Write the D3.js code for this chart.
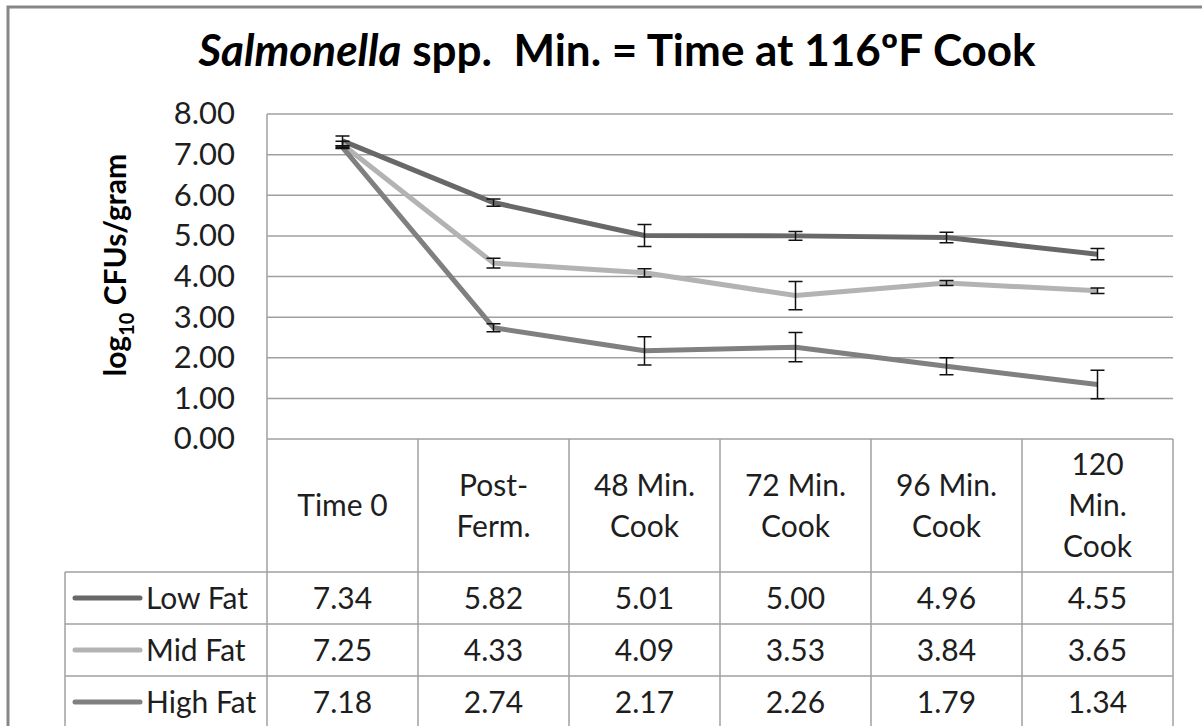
<!DOCTYPE html>
<html>
<head>
<meta charset="utf-8">
<script src="https://cdn.jsdelivr.net/npm/d3@7"></script>
<style>
  body { margin: 0; background: #fff; }
  svg { display: block; font-family: Lato, "Open Sans", sans-serif; }
</style>
</head>
<body>
<div id="chart"></div>
<script>
// categories (header lines of the data table)
const categories = ['Time 0', 'Post-Ferm.', '48 Min. Cook', '72 Min. Cook', '96 Min. Cook', '120 Min. Cook'];
const categoryLines = [['Time 0'], ['Post-', 'Ferm.'], ['48 Min.', 'Cook'], ['72 Min.', 'Cook'], ['96 Min.', 'Cook'], ['120', 'Min.', 'Cook']];

// series values (log10 CFUs/gram)
const seriesNames = ['Low Fat', 'Mid Fat', 'High Fat'];
const lowFat = [7.34, 5.82, 5.01, 5.00, 4.96, 4.55];
const midFat = [7.25, 4.33, 4.09, 3.53, 3.84, 3.65];
const highFat = [7.18, 2.74, 2.17, 2.26, 1.79, 1.34];

// error bar half-widths
const lowFatErr = [0.12, 0.09, 0.27, 0.11, 0.13, 0.14];
const midFatErr = [0.08, 0.12, 0.10, 0.35, 0.06, 0.07];
const highFatErr = [0.03, 0.10, 0.35, 0.36, 0.21, 0.35];

const yTicks = [0, 1, 2, 3, 4, 5, 6, 7, 8];

const colors = ['#686868', '#b3b3b3', '#808080'];
const series = [
  { name: seriesNames[0], values: lowFat, err: lowFatErr, color: colors[0] },
  { name: seriesNames[1], values: midFat, err: midFatErr, color: colors[1] },
  { name: seriesNames[2], values: highFat, err: highFatErr, color: colors[2] },
];

const width = 1202;
const height = 726;
const plot = { left: 267, right: 1173, top: 114, bottom: 439 };
const table = { legendLeft: 65, headerBottom: 572, rowHeight: 52 };
const gridColor = '#a0a0a0';
const textColor = '#1e1e1e';
const tableFont = 30;

const svg = d3.select('#chart')
  .append('svg')
  .attr('width', width)
  .attr('height', height);

// outer chart border
svg.append('rect')
  .attr('x', 8)
  .attr('y', 7)
  .attr('width', 1220)
  .attr('height', 760)
  .attr('fill', 'none')
  .attr('stroke', '#878787')
  .attr('stroke-width', 3);

// title
const title = svg.append('text')
  .attr('x', 617)
  .attr('y', 66)
  .attr('text-anchor', 'middle')
  .attr('font-size', 44)
  .attr('font-weight', 'bold')
  .attr('fill', '#000');
title.append('tspan').attr('font-style', 'italic').text('Salmonella');
title.append('tspan').attr('xml:space', 'preserve').text(' spp.\u00a0 Min. = Time at 116\u00baF Cook');

// scales
const x = d3.scaleBand()
  .domain(categories)
  .range([plot.left, plot.right]);

const y = d3.scaleLinear()
  .domain([0, 8])
  .range([plot.bottom, plot.top]);

// gridlines
svg.append('g')
  .selectAll('line')
  .data(yTicks)
  .join('line')
  .attr('x1', plot.left)
  .attr('x2', plot.right)
  .attr('y1', d => y(d))
  .attr('y2', d => y(d))
  .attr('stroke', gridColor)
  .attr('stroke-width', 1.5);

// y axis labels
const yAxis = svg.append('g')
  .attr('transform', `translate(${plot.left},0)`)
  .call(d3.axisLeft(y).tickValues(yTicks).tickFormat(d3.format('.2f')).tickSize(0).tickPadding(32));
yAxis.select('.domain').remove();
yAxis.selectAll('text')
  .attr('font-family', 'Lato, sans-serif')
  .attr('font-size', 31)
  .attr('fill', textColor);

// y axis title
const yTitle = svg.append('text')
  .attr('transform', 'translate(126,265) rotate(-90)')
  .attr('text-anchor', 'middle')
  .attr('font-size', 30)
  .attr('font-weight', 'bold')
  .attr('fill', '#000');
yTitle.append('tspan').text('log');
yTitle.append('tspan').attr('font-size', 20).attr('dy', 8).text('10');
yTitle.append('tspan').attr('dy', -8).text(' CFUs/gram');

// data table lines
const tableBottom = table.headerBottom + table.rowHeight * 3;
const tableLines = svg.append('g')
  .attr('stroke', gridColor)
  .attr('stroke-width', 1.5);

// column boundaries
const colEdges = categories.map(c => x(c)).concat([plot.right]);
tableLines.selectAll('line.col')
  .data(colEdges)
  .join('line')
  .attr('class', 'col')
  .attr('x1', d => d)
  .attr('x2', d => d)
  .attr('y1', (d, i) => i === 0 ? plot.top : plot.bottom)
  .attr('y2', tableBottom);

tableLines.append('line')
  .attr('x1', table.legendLeft)
  .attr('x2', table.legendLeft)
  .attr('y1', table.headerBottom)
  .attr('y2', tableBottom);

tableLines.selectAll('line.row')
  .data(d3.range(4))
  .join('line')
  .attr('class', 'row')
  .attr('x1', table.legendLeft)
  .attr('x2', plot.right)
  .attr('y1', d => table.headerBottom + d * table.rowHeight)
  .attr('y2', d => table.headerBottom + d * table.rowHeight);

// header labels
const headerMid = (plot.bottom + table.headerBottom) / 2;
const lineGap = 41;
svg.append('g')
  .selectAll('text')
  .data(categoryLines)
  .join('text')
  .attr('text-anchor', 'middle')
  .attr('font-size', tableFont)
  .attr('fill', textColor)
  .each(function (lines, i) {
    const cx = x(categories[i]) + x.bandwidth() / 2;
    const startY = headerMid - (lines.length - 1) * lineGap / 2;
    d3.select(this).selectAll('tspan')
      .data(lines)
      .join('tspan')
      .attr('x', cx)
      .attr('y', (l, j) => startY + j * lineGap)
      .attr('dy', '0.35em')
      .text(l => l);
  });

// rows: legend key + values
const rows = svg.append('g')
  .selectAll('g')
  .data(series)
  .join('g')
  .attr('transform', (d, i) => `translate(0,${table.headerBottom + (i + 0.5) * table.rowHeight})`);

rows.append('line')
  .attr('x1', 75)
  .attr('x2', 140)
  .attr('stroke', d => d.color)
  .attr('stroke-width', 5)
  .attr('stroke-linecap', 'round');

rows.append('text')
  .attr('x', 146)
  .attr('dy', '0.35em')
  .attr('font-size', tableFont)
  .attr('fill', textColor)
  .text(d => d.name);

rows.selectAll('text.val')
  .data(d => d.values)
  .join('text')
  .attr('class', 'val')
  .attr('x', (v, i) => x(categories[i]) + x.bandwidth() / 2)
  .attr('dy', '0.35em')
  .attr('text-anchor', 'middle')
  .attr('font-size', tableFont)
  .attr('fill', textColor)
  .text(v => d3.format('.2f')(v));

// series lines
const line = d3.line()
  .x((v, i) => x(categories[i]) + x.bandwidth() / 2)
  .y(v => y(v));

svg.append('g')
  .selectAll('path')
  .data(series)
  .join('path')
  .attr('fill', 'none')
  .attr('stroke', d => d.color)
  .attr('stroke-width', 5)
  .attr('stroke-linejoin', 'round')
  .attr('d', d => line(d.values));

// error bars
const capHalf = 7;
const errGroups = svg.append('g')
  .attr('stroke', '#111')
  .attr('stroke-width', 1.5)
  .selectAll('g')
  .data(series)
  .join('g');

errGroups.selectAll('path')
  .data(d => d.values.map((v, i) => ({ v, e: d.err[i], cx: x(categories[i]) + x.bandwidth() / 2 })))
  .join('path')
  .attr('fill', 'none')
  .attr('d', d => {
    const y1 = y(d.v + d.e);
    const y0 = y(d.v - d.e);
    return `M${d.cx - capHalf},${y1}H${d.cx + capHalf}M${d.cx},${y1}V${y0}M${d.cx - capHalf},${y0}H${d.cx + capHalf}`;
  });
</script>
</body>
</html>
